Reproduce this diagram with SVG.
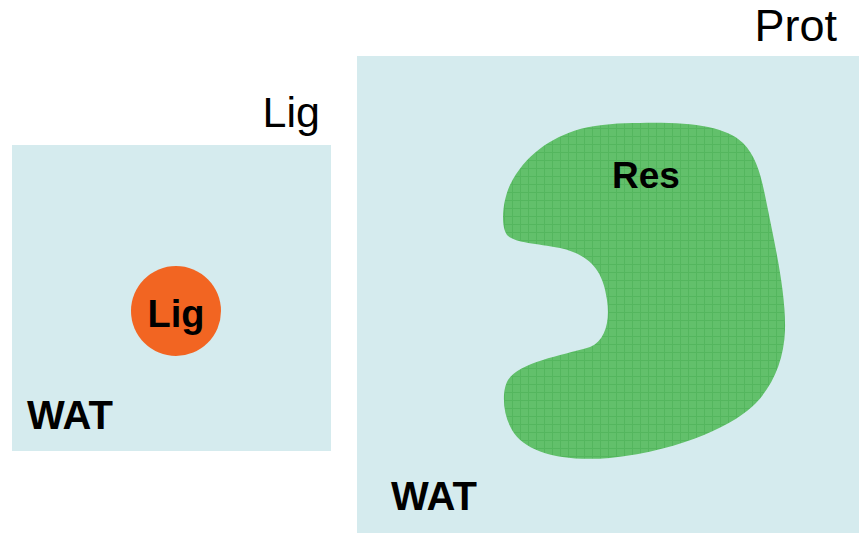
<svg xmlns="http://www.w3.org/2000/svg" width="859" height="536" viewBox="0 0 859 536">
  <defs>
    <pattern id="grid" width="8" height="8" patternUnits="userSpaceOnUse">
      <rect width="8" height="8" fill="#62c06b"/>
      <path d="M0 0.5H8M0.5 0V8" stroke="#54b65e" stroke-width="1"/>
    </pattern>
  </defs>
  <style>
    .water { fill: #d5ebee; }
    .label { font-family: "Liberation Sans", Arial, sans-serif; fill: #000; }
    .bold { font-weight: bold; }
  </style>

  <rect width="859" height="536" fill="#ffffff"/>

  <!-- ligand in water -->
  <g id="lig-system">
    <rect class="water" x="12" y="145" width="319" height="306"/>
    <text class="label" x="320" y="127" font-size="43" text-anchor="end">Lig</text>
  </g>
  <g id="lig">
    <circle cx="176" cy="311" r="45" fill="#f26522"/>
    <text class="label bold" x="176" y="327" font-size="38" text-anchor="middle">Lig</text>
  </g>
  <g id="wat-left">
    <text class="label bold" x="27" y="429" font-size="40">WAT</text>
  </g>

  <!-- protein in water -->
  <g id="prot-system">
    <rect class="water" x="357" y="56" width="502" height="477"/>
    <text class="label" x="837" y="41" font-size="45" text-anchor="end">Prot</text>
  </g>
  <g id="res">
    <path fill="url(#grid)" d="M640,123
      C690,122 725,126 743,143
      C758,158 762,180 768,210
      C776,250 786,295 785,330
      C784,360 773,385 756,403
      C737,423 685,450 610,458
      C560,462 525,452 512,430
      C502,413 502,390 508,380
      C520,362 560,356 590,347
      C606,340 610,320 607,300
      C603,270 590,255 560,248
      C535,243 515,243 507,235
      C500,225 503,200 510,185
      C525,155 550,138 580,129
      C600,124 620,123 640,123 Z"/>
    <text class="label bold" x="612" y="188" font-size="37">Res</text>
  </g>
  <g id="wat-right">
    <text class="label bold" x="391" y="510" font-size="40">WAT</text>
  </g>

  <g id="connectors"/>
</svg>
